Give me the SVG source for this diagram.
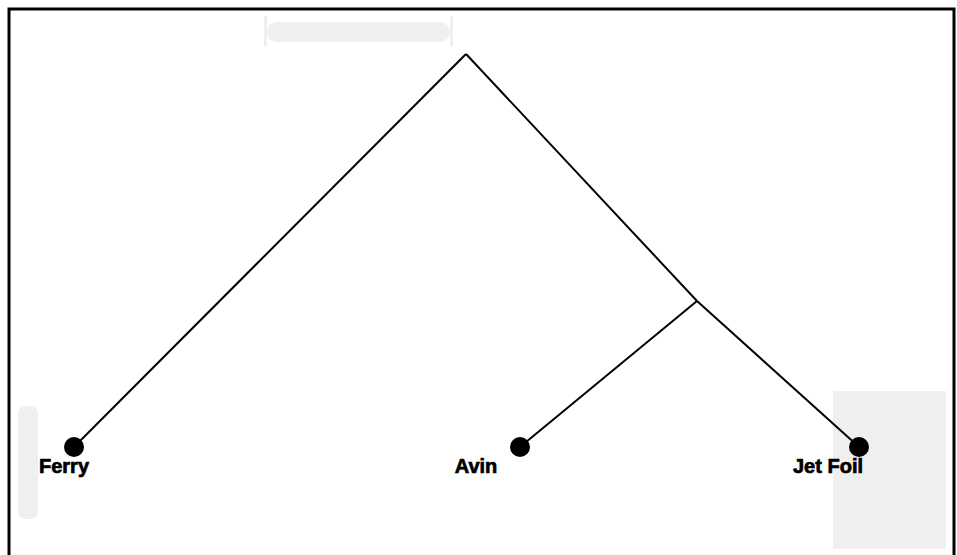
<svg xmlns="http://www.w3.org/2000/svg" width="957" height="555" viewBox="0 0 957 555">
<style>
.edge{stroke:#000;stroke-width:2;fill:none}
.leaf{fill:#000}
.lbl{font-family:"Liberation Sans",Arial,sans-serif;font-weight:bold;font-size:20px;letter-spacing:0px;fill:#000;stroke:#000;stroke-width:0.7px;text-anchor:middle}
.ghost{fill:#efefef}
</style>
<rect x="0" y="0" width="957" height="555" fill="#fff"/>
<rect x="9" y="9" width="945" height="560" fill="none" stroke="#000" stroke-width="3"/>
<g id="scroll-h">
<rect x="264" y="16" width="3" height="30" class="ghost"/>
<rect x="450" y="16" width="3" height="30" class="ghost"/>
<rect x="267" y="22" width="183" height="20" rx="10" class="ghost"/>
</g>
<rect x="18" y="406" width="20" height="113" rx="7" class="ghost"/>
<rect x="833" y="391" width="113" height="158" rx="1" class="ghost"/>
<g id="connectors">
<line x1="466" y1="54" x2="74" y2="447" class="edge"/>
<line x1="466" y1="54" x2="697" y2="301" class="edge"/>
<line x1="697" y1="301" x2="520" y2="447" class="edge"/>
<line x1="697" y1="301" x2="859" y2="447" class="edge"/>
</g>
<g id="ferry"><circle cx="74" cy="447" r="10" class="leaf"/><text x="64" y="473" class="lbl">Ferry</text></g>
<g id="avin"><circle cx="520" cy="447" r="10" class="leaf"/><text x="476" y="473" class="lbl">Avin</text></g>
<g id="jetfoil"><circle cx="859" cy="447" r="10" class="leaf"/><text x="828" y="473" class="lbl">Jet Foil</text></g>
</svg>
